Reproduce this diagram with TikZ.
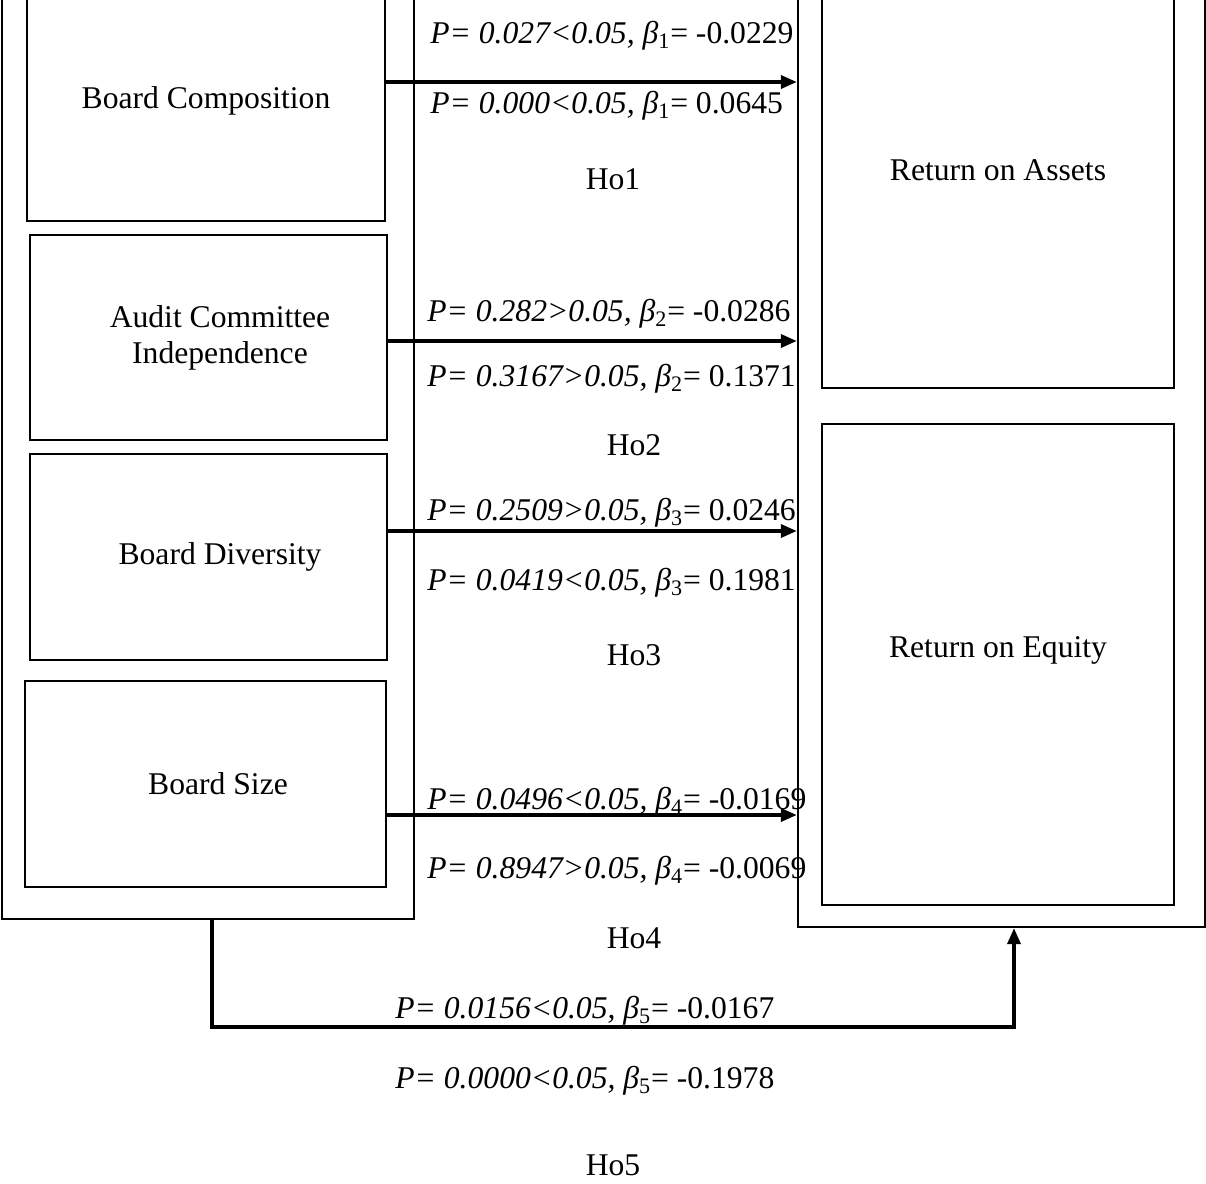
\documentclass[tikz,border=0pt]{standalone}
\usepackage{fontspec}
\setmainfont{Liberation Serif}
\usetikzlibrary{arrows.meta}
\begin{document}
\begin{tikzpicture}[x=0.02cm, y=-0.02cm,
    every node/.style={font=\fontsize{18}{20.5}\selectfont},
    box/.style={draw, line width=1.4pt, inner sep=0pt, align=center},
    lbl/.style={anchor=west, inner sep=0pt, yshift=-0.06cm},
    link/.style={line width=2pt, -{Triangle[length=0.32cm,width=0.26cm]}}]
  \useasboundingbox (0,0) rectangle (1206,1183);
  % outer frames
  \draw
    (208,439.5) node[box, minimum width=8.24cm, minimum height=19.18cm] (outL){}
    (1001.5,428.5) node[box, minimum width=8.14cm, minimum height=19.94cm] (outR){};
  % independent variables
  \draw
    (206,101) node[box, minimum width=7.16cm, minimum height=4.8cm] (bc){Board Composition}
    (208.5,337.5) node[box, minimum width=7.14cm, minimum height=4.1cm,
      label={[align=center, xshift=0.23cm]center:Audit Committee\\Independence}] (aci){}
    (208.5,557) node[box, minimum width=7.14cm, minimum height=4.12cm,
      label={[xshift=0.23cm]center:Board Diversity}] (bd){}
    (205.5,784) node[box, minimum width=7.22cm, minimum height=4.12cm,
      label={[xshift=0.25cm]center:Board Size}] (bs){};
  % dependent variables
  \draw
    (998,170) node[box, minimum width=7.04cm, minimum height=8.72cm] (roa){Return on Assets}
    (998,664.5) node[box, minimum width=7.04cm, minimum height=9.62cm,
      label={[yshift=0.29cm]center:Return on Equity}] (roe){};
  % coefficients
  \draw
    (430,33) node[lbl] (p1a){{\itshape P= 0.027<0.05, β}\textsubscript{1}= -0.0229}
    (430,103) node[lbl] (p1b){{\itshape P= 0.000<0.05, β}\textsubscript{1}= 0.0645}
    (613,179) node (ho1){Ho1}
    (427,311) node[lbl] (p2a){{\itshape P= 0.282>0.05, β}\textsubscript{2}= -0.0286}
    (427,376) node[lbl] (p2b){{\itshape P= 0.3167>0.05, β}\textsubscript{2}= 0.1371}
    (634,445) node (ho2){Ho2}
    (427,510) node[lbl] (p3a){{\itshape P= 0.2509>0.05, β}\textsubscript{3}= 0.0246}
    (427,580) node[lbl] (p3b){{\itshape P= 0.0419<0.05, β}\textsubscript{3}= 0.1981}
    (634,655) node (ho3){Ho3}
    (427,799) node[lbl] (p4a){{\itshape P= 0.0496<0.05, β}\textsubscript{4}= -0.0169}
    (427,868) node[lbl] (p4b){{\itshape P= 0.8947>0.05, β}\textsubscript{4}= -0.0069}
    (634,938) node (ho4){Ho4}
    (395,1008) node[lbl] (p5a){{\itshape P= 0.0156<0.05, β}\textsubscript{5}= -0.0167}
    (395,1078) node[lbl] (p5b){{\itshape P= 0.0000<0.05, β}\textsubscript{5}= -0.1978}
    (613,1165) node (ho5){Ho5};
  \coordinate (elbow) at (600,1027);
  \begin{scope}[link]
    \draw ([yshift=0.38cm]bc.east) -- ([yshift=0.38cm]bc.east -| outR.west);
    \draw ([yshift=-0.07cm]aci.east) -- ([yshift=-0.07cm]aci.east -| outR.west);
    \draw ([yshift=0.52cm]bd.east) -- ([yshift=0.52cm]bd.east -| outR.west);
    \draw ([yshift=-0.62cm]bs.east) -- ([yshift=-0.62cm]bs.east -| outR.west);
    \draw ([xshift=0.08cm]outL.south) |- (elbow) -| ([xshift=0.25cm]outR.south);
  \end{scope}
\end{tikzpicture}
\end{document}
